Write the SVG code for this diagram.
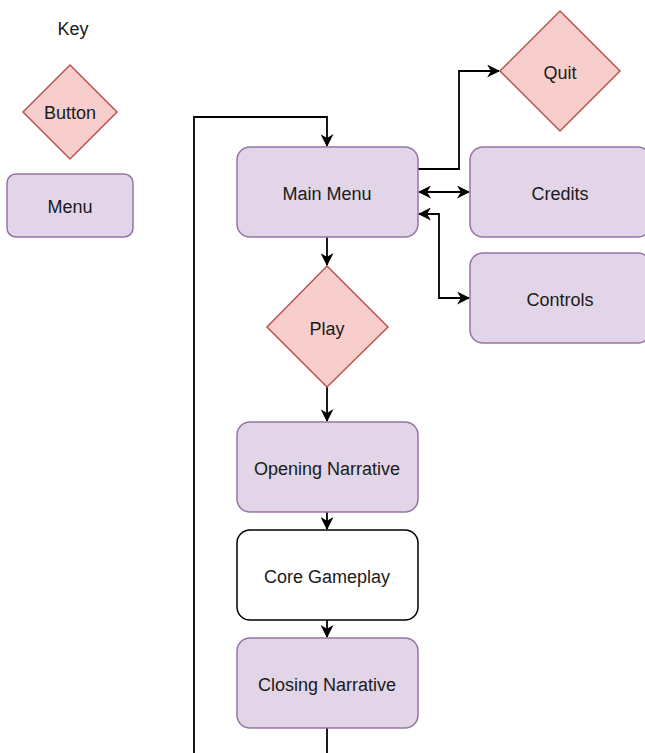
<svg xmlns="http://www.w3.org/2000/svg" width="645" height="753" viewBox="0 0 645 753">
<defs>
<marker id="arr" viewBox="0 0 12 12" refX="11" refY="6" markerWidth="13" markerHeight="13" markerUnits="userSpaceOnUse" orient="auto-start-reverse">
<path d="M0,0 L12,6 L0,12 L3.5,6 Z" fill="#000"/>
</marker>
<style>
.menu{fill:#e1d5e7;stroke:#9673a6;stroke-width:1.5}
.btn{fill:#f8cecc;stroke:#b85450;stroke-width:1.5}
.plain{fill:#fff;stroke:#000;stroke-width:1.5}
.t{font-family:"Liberation Sans",Arial,sans-serif;font-size:18px;fill:#1a1a1a;text-anchor:middle;dominant-baseline:central}
.c{fill:none;stroke:#000;stroke-width:1.8}
</style>
</defs>
<rect width="645" height="753" fill="#fff"/>
<g id="connectors">
<path class="c" d="M418,169 H459 V71 H499" marker-end="url(#arr)"/>
<path class="c" d="M419,192 H469" marker-start="url(#arr)" marker-end="url(#arr)"/>
<path class="c" d="M419,214 H439 V298 H469" marker-start="url(#arr)" marker-end="url(#arr)"/>
<path class="c" d="M327,237 V265" marker-end="url(#arr)"/>
<path class="c" d="M327,386 V421" marker-end="url(#arr)"/>
<path class="c" d="M327,512 V529" marker-end="url(#arr)"/>
<path class="c" d="M327,620 V637" marker-end="url(#arr)"/>
<path class="c" d="M327,728 V753"/>
<path class="c" d="M194,753 V117 H327 V146" marker-end="url(#arr)"/>
</g>
<g id="key-label"><text class="t" x="73" y="29">Key</text></g>
<g id="key-button"><polygon class="btn" points="70,65 117,112 70,159 23,112"/><text class="t" x="70" y="113">Button</text></g>
<g id="key-menu"><rect class="menu" x="7" y="174" width="126" height="63" rx="9"/><text class="t" x="70" y="207">Menu</text></g>
<g id="main-menu"><rect class="menu" x="237" y="147" width="181" height="90" rx="13"/><text class="t" x="327" y="193.5">Main Menu</text></g>
<g id="quit"><polygon class="btn" points="560,11 620,71 560,131 500,71"/><text class="t" x="560" y="72.5">Quit</text></g>
<g id="credits"><rect class="menu" x="470" y="147" width="181" height="90" rx="13"/><text class="t" x="560" y="193.5">Credits</text></g>
<g id="controls"><rect class="menu" x="470" y="253" width="181" height="90" rx="13"/><text class="t" x="560" y="299.5">Controls</text></g>
<g id="play"><polygon class="btn" points="327,266 388,327 327,387 267,327"/><text class="t" x="327" y="328.5">Play</text></g>
<g id="opening"><rect class="menu" x="237" y="422" width="181" height="90" rx="13"/><text class="t" x="327" y="468.5">Opening Narrative</text></g>
<g id="core"><rect class="plain" x="237" y="530" width="181" height="90" rx="13"/><text class="t" x="327" y="576.5">Core Gameplay</text></g>
<g id="closing"><rect class="menu" x="237" y="638" width="181" height="90" rx="13"/><text class="t" x="327" y="684.5">Closing Narrative</text></g>
</svg>
